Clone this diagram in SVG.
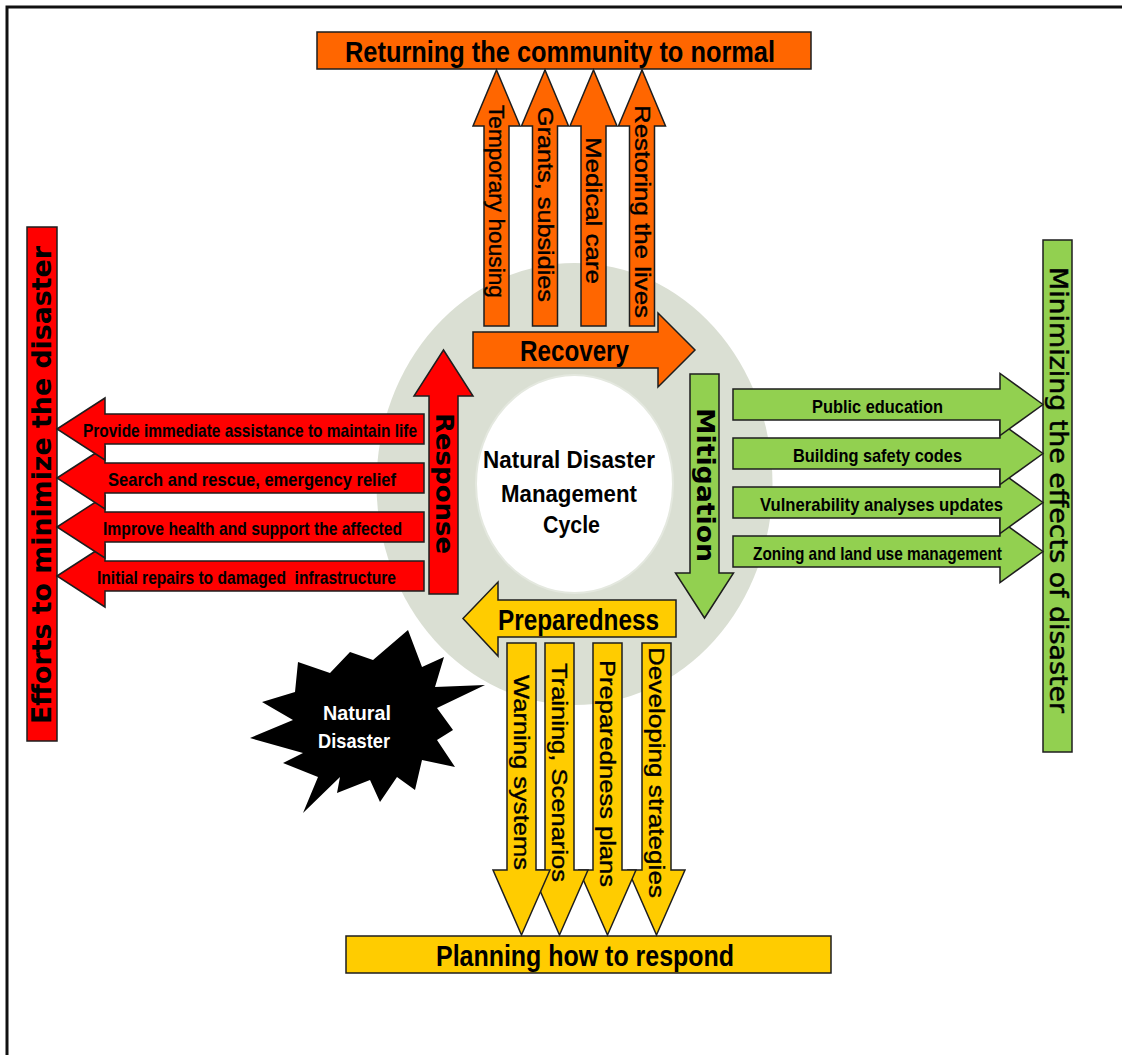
<svg xmlns="http://www.w3.org/2000/svg" xmlns:xlink="http://www.w3.org/1999/xlink" width="1122" height="1055" viewBox="0 0 1122 1055">
  <style>
    .ol { stroke: #1e1e1e; stroke-width: 1.5; stroke-linejoin: miter; }
    .or { fill: #ff6600; }
    .rd { fill: #ff0000; }
    .gr { fill: #92d050; }
    .ye { fill: #ffcc00; }
    text { font-family: "Liberation Sans", Arial, sans-serif; fill: #000; }
    .b { font-weight: bold; }
    .wide { font-family: "DejaVu Sans", Verdana, sans-serif; }
    .vert { text-anchor: middle; dominant-baseline: central; }
    .mid { text-anchor: middle; }
    .item { font-size: 19px; font-weight: bold; }
    .vitem { font-size: 22px; stroke: #000; stroke-width: 0.35px; }
    .title { font-size: 29px; font-weight: bold; }
    .phase { font-size: 30px; font-weight: bold; }
  </style>
  <defs>
    <!-- arrow outlines, anchored at the tip -->
    <path id="upArrow" d="M-12.5,256 V56 H-23.5 L0,0 L23.5,56 H12.5 V256 Z"/>
    <path id="leftArrow" d="M0,0 L48,-31 V-15 H367 V15 H48 V31 Z"/>
    <path id="rightArrow" d="M0,0 L-43,-31 V-15.5 H-310 V15.5 H-43 V31 Z"/>
    <path id="downArrow" d="M0,0 L-28.5,-65 H-14.5 V-292 H14.5 V-65 H28.5 Z"/>
  </defs>

  <rect width="1122" height="1055" fill="#ffffff"/>
  <!-- page frame -->
  <path d="M7,1055 V7 H1122" fill="none" stroke="#111" stroke-width="3"/>

  <!-- cycle ring -->
  <g id="cycle-ring">
    <ellipse cx="574.5" cy="484" rx="198" ry="221" fill="#dadfd3"/>
    <ellipse cx="574.5" cy="484" rx="98.5" ry="109" fill="#ffffff" stroke="#e4e8df" stroke-width="2"/>
  </g>

  <g id="node-center">
    <text class="b mid" font-size="24" x="569" y="468" textLength="172" lengthAdjust="spacingAndGlyphs">Natural Disaster</text>
    <text class="b mid" font-size="24" x="569" y="502" textLength="136" lengthAdjust="spacingAndGlyphs">Management</text>
    <text class="b mid" font-size="24" x="571.5" y="533" textLength="57" lengthAdjust="spacingAndGlyphs">Cycle</text>
  </g>

  <!-- outcome bars -->
  <g id="node-returning">
    <rect class="or ol" x="317" y="32" width="494" height="37"/>
    <text class="title mid" x="560" y="62" textLength="430" lengthAdjust="spacingAndGlyphs">Returning the community to normal</text>
  </g>
  <g id="node-efforts">
    <rect class="rd ol" x="27" y="227" width="30" height="514"/>
    <text class="wide b vert" font-size="26" transform="translate(42,485) rotate(-90)" textLength="478" lengthAdjust="spacingAndGlyphs">Efforts to minimize the disaster</text>
  </g>
  <g id="node-minimizing">
    <rect class="gr ol" x="1043" y="240" width="29" height="512"/>
    <text class="wide vert" font-size="24" transform="translate(1058,490) rotate(90)" textLength="446" lengthAdjust="spacingAndGlyphs" style="stroke:#000;stroke-width:0.5px">Minimizing the effects of disaster</text>
  </g>
  <g id="node-planning">
    <rect class="ye ol" x="346" y="936" width="485" height="37"/>
    <text class="title mid" x="585" y="966" textLength="298" lengthAdjust="spacingAndGlyphs">Planning how to respond</text>
  </g>

  <!-- cycle phases -->
  <g id="node-recovery">
    <path class="or ol" d="M473,332 H658 V313 L695,350 L658,387 V368 H473 Z"/>
    <text class="phase mid" x="574.5" y="361" textLength="109" lengthAdjust="spacingAndGlyphs">Recovery</text>
  </g>
  <g id="node-mitigation">
    <path class="gr ol" d="M690,374 H719 V573 H733.5 L704.5,618 L675.5,573 H690 Z"/>
    <text class="wide b vert" font-size="24" transform="translate(704.5,485) rotate(90)" textLength="154" lengthAdjust="spacingAndGlyphs">Mitigation</text>
  </g>
  <g id="node-preparedness">
    <path class="ye ol" d="M676,600 H498 V582 L463,618.5 L498,656 V637 H676 Z"/>
    <text class="phase mid" x="578.5" y="630" textLength="161" lengthAdjust="spacingAndGlyphs">Preparedness</text>
  </g>
  <g id="node-response">
    <path class="rd ol" d="M429,594 V396 H414 L443.5,350 L473,396 H458 V594 Z"/>
    <text class="wide b vert" font-size="24" transform="translate(443.5,483.5) rotate(90)" textLength="141" lengthAdjust="spacingAndGlyphs">Response</text>
  </g>

  <!-- hazard -->
  <g id="node-natural-disaster">
    <polygon fill="#000" points="408,630 422,667 444,657 435,687 485,685 437,708 453,730 437,740 455,767 422,760 415,790 397,777 380,802 370,780 337,793 340,777 303,813 318,777 283,763 303,753 250,738 293,720 262,702 295,692 298,662 330,673 350,652 373,660"/>
    <text class="b mid" font-size="21" x="357" y="720" textLength="68" lengthAdjust="spacingAndGlyphs" style="fill:#fff">Natural</text>
    <text class="b mid" font-size="21" x="354" y="748" textLength="72" lengthAdjust="spacingAndGlyphs" style="fill:#fff">Disaster</text>
  </g>

  <g id="connectors">
    <!-- recovery actions -->
    <g id="recovery-actions">
      <use xlink:href="#upArrow" href="#upArrow" x="496.5" y="70" class="or ol"/>
      <use xlink:href="#upArrow" href="#upArrow" x="545" y="70" class="or ol"/>
      <use xlink:href="#upArrow" href="#upArrow" x="593.5" y="70" class="or ol"/>
      <use xlink:href="#upArrow" href="#upArrow" x="642" y="70" class="or ol"/>
      <text class="vitem vert" transform="translate(496.5,201.5) rotate(90)" textLength="193" lengthAdjust="spacingAndGlyphs">Temporary housing</text>
      <text class="vitem vert" transform="translate(545,204.5) rotate(90)" textLength="195" lengthAdjust="spacingAndGlyphs">Grants, subsidies</text>
      <text class="vitem vert" transform="translate(593.5,210.5) rotate(90)" textLength="147" lengthAdjust="spacingAndGlyphs">Medical care</text>
      <text class="vitem vert" transform="translate(642,211.5) rotate(90)" textLength="213" lengthAdjust="spacingAndGlyphs">Restoring the lives</text>
    </g>

    <!-- response actions (upper arrows drawn last) -->
    <g id="response-actions">
      <use xlink:href="#leftArrow" href="#leftArrow" x="57" y="576" class="rd ol"/>
      <use xlink:href="#leftArrow" href="#leftArrow" x="57" y="527" class="rd ol"/>
      <use xlink:href="#leftArrow" href="#leftArrow" x="57" y="478" class="rd ol"/>
      <use xlink:href="#leftArrow" href="#leftArrow" x="57" y="429" class="rd ol"/>
      <text class="item mid" x="250" y="437" textLength="334" lengthAdjust="spacingAndGlyphs">Provide immediate assistance to maintain life</text>
      <text class="item mid" x="252" y="486" textLength="288" lengthAdjust="spacingAndGlyphs">Search and rescue, emergency relief</text>
      <text class="item mid" x="252.5" y="535" textLength="299" lengthAdjust="spacingAndGlyphs">Improve health and support the affected</text>
      <text class="item mid" x="246.5" y="584" textLength="299" lengthAdjust="spacingAndGlyphs" style="white-space:pre">Initial repairs to damaged  infrastructure</text>
    </g>

    <!-- mitigation actions -->
    <g id="mitigation-actions">
      <use xlink:href="#rightArrow" href="#rightArrow" x="1043" y="551.5" class="gr ol"/>
      <use xlink:href="#rightArrow" href="#rightArrow" x="1043" y="502.5" class="gr ol"/>
      <use xlink:href="#rightArrow" href="#rightArrow" x="1043" y="453.5" class="gr ol"/>
      <use xlink:href="#rightArrow" href="#rightArrow" x="1043" y="404.5" class="gr ol"/>
      <text class="item mid" x="877.5" y="413" textLength="131" lengthAdjust="spacingAndGlyphs">Public education</text>
      <text class="item mid" x="877.5" y="462" textLength="169" lengthAdjust="spacingAndGlyphs">Building safety codes</text>
      <text class="item mid" x="881.5" y="511" textLength="243" lengthAdjust="spacingAndGlyphs">Vulnerability analyses updates</text>
      <text class="item mid" x="877.5" y="560" textLength="249" lengthAdjust="spacingAndGlyphs">Zoning and land use management</text>
    </g>

    <!-- preparedness actions -->
    <g id="preparedness-actions">
      <use xlink:href="#downArrow" href="#downArrow" x="656.5" y="935" class="ye ol"/>
      <use xlink:href="#downArrow" href="#downArrow" x="607.5" y="935" class="ye ol"/>
      <use xlink:href="#downArrow" href="#downArrow" x="559.5" y="935" class="ye ol"/>
      <use xlink:href="#downArrow" href="#downArrow" x="521.5" y="935" class="ye ol"/>
      <text class="vitem vert" transform="translate(521.5,772.5) rotate(90)" textLength="195" lengthAdjust="spacingAndGlyphs">Warning systems</text>
      <text class="vitem vert" transform="translate(559.5,772.5) rotate(90)" textLength="219" lengthAdjust="spacingAndGlyphs">Training, Scenarios</text>
      <text class="vitem vert" transform="translate(607.5,773.5) rotate(90)" textLength="227" lengthAdjust="spacingAndGlyphs">Preparedness plans</text>
      <text class="vitem vert" transform="translate(656.5,772.5) rotate(90)" textLength="251" lengthAdjust="spacingAndGlyphs">Developing strategies</text>
    </g>
  </g>
</svg>
